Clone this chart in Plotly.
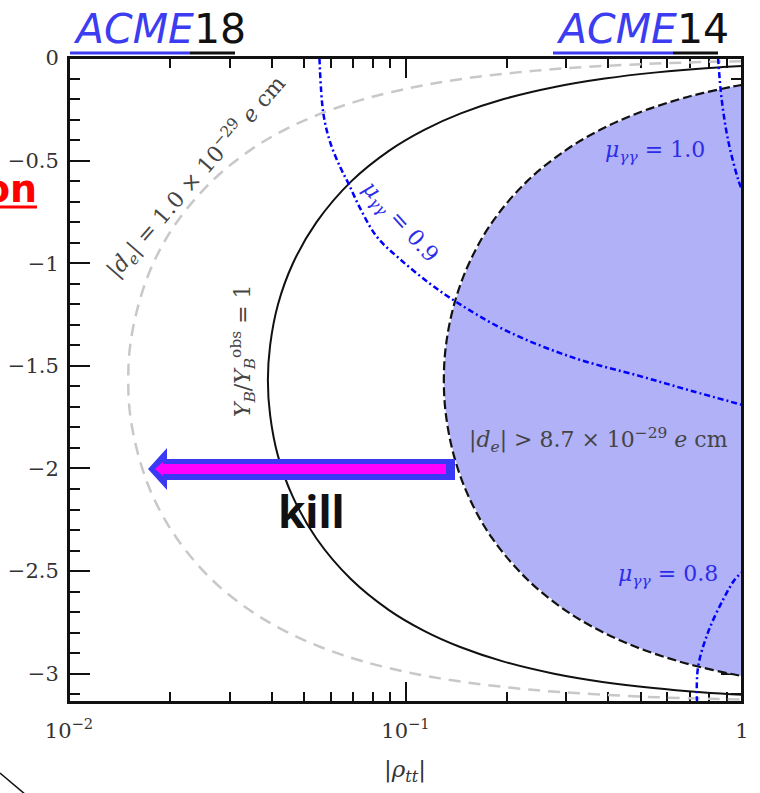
import plotly.graph_objects as go

# ---------------- data ----------------
# phase phi (y axis) and |rho_tt| (x axis) along each contour
phi_curve = [-0.01, -0.02, -0.03, -0.05, -0.07, -0.10, -0.14, -0.20, -0.27, -0.35, -0.45,
             -0.60, -0.80, -1.00, -1.20, -1.40, -1.57, -1.74, -1.94, -2.14, -2.34, -2.54,
             -2.69, -2.79, -2.87, -2.94, -3.00, -3.04, -3.07, -3.09, -3.11, -3.12, -3.13]
rho_de_10 = [1.50, 0.750, 0.500, 0.300, 0.215, 0.150, 0.1075, 0.0755, 0.0562, 0.0437, 0.0345,
             0.0266, 0.0209, 0.0178, 0.0161, 0.0152, 0.0150, 0.0152, 0.0161, 0.0178, 0.0209, 0.0265,
             0.0344, 0.0436, 0.0559, 0.0749, 0.1063, 0.148, 0.210, 0.291, 0.475, 0.694, 1.29]
rho_yb = [3.9, 1.95, 1.30, 0.780, 0.558, 0.391, 0.280, 0.196, 0.146, 0.1137, 0.0897,
          0.0691, 0.0544, 0.0463, 0.0418, 0.0396, 0.0390, 0.0396, 0.0418, 0.0463, 0.0543, 0.0689,
          0.0893, 0.1132, 0.1454, 0.1948, 0.2764, 0.385, 0.545, 0.756, 1.23, 1.80, 3.36]

phi_excl = [-0.13, -0.14, -0.17, -0.20, -0.27, -0.35, -0.45, -0.60, -0.80, -1.00, -1.20, -1.40,
            -1.57, -1.74, -1.94, -2.14, -2.34, -2.54, -2.69, -2.79, -2.87, -2.94, -2.97, -3.00, -3.011]
rho_excl = [1.003, 0.932, 0.768, 0.654, 0.487, 0.379, 0.299, 0.230, 0.181, 0.1545, 0.1395, 0.1319,
            0.1300, 0.1319, 0.1394, 0.1543, 0.1809, 0.2298, 0.2978, 0.3775, 0.4845, 0.649, 0.761, 0.921, 0.998]

mu09_rho = [0.0555, 0.0570, 0.0597, 0.0639, 0.0676, 0.0732, 0.0821, 0.0963, 0.1183, 0.1420, 0.1999, 0.3152, 0.4976, 0.701, 1.0]
mu09_phi = [0.0, -0.27, -0.41, -0.53, -0.61, -0.73, -0.87, -0.98, -1.10, -1.19, -1.33, -1.46, -1.55, -1.62, -1.69]
mu10_rho = [0.849, 0.870, 0.909, 0.973, 1.0]
mu10_phi = [0.0, -0.20, -0.40, -0.59, -0.643]
mu08_rho = [0.735, 0.740, 0.792, 0.878, 0.953, 1.0]
mu08_phi = [-3.14, -2.97, -2.80, -2.64, -2.54, -2.505]

x_tickvals = [0.01, 0.1, 1]
x_ticktext = ["10<sup>−2</sup>", "10<sup>−1</sup>", "1"]
x_minor = [0.02, 0.03, 0.04, 0.05, 0.06, 0.07, 0.08, 0.09, 0.2, 0.3, 0.4, 0.5, 0.6, 0.7, 0.8, 0.9]
y_tickvals = [0, -0.5, -1, -1.5, -2, -2.5, -3]
y_ticktext = ["0", "−0.5", "−1", "−1.5", "−2", "−2.5", "−3"]

# ---------------- figure ----------------
W, H = 760, 793
SERIF = "DejaVu Serif"
BLUE_TXT = "#2d2de8"
ACME_BLUE = "#3c3cf0"

fig = go.Figure()

fig.add_trace(go.Scatter(x=rho_excl, y=phi_excl, mode="lines", fill="toself",
                         fillcolor="#b1b1f8", line=dict(width=0), hoverinfo="skip"))
fig.add_trace(go.Scatter(x=rho_excl, y=phi_excl, mode="lines",
                         line=dict(color="#111111", width=2.2, dash="9px,4px", shape="spline")))
fig.add_trace(go.Scatter(x=rho_de_10, y=phi_curve, mode="lines",
                         line=dict(color="#c8c8c8", width=2.5, dash="12px,8px", shape="spline")))
fig.add_trace(go.Scatter(x=rho_yb, y=phi_curve, mode="lines",
                         line=dict(color="#111111", width=2, shape="spline")))
for xs, ys in [(mu09_rho, mu09_phi), (mu10_rho, mu10_phi), (mu08_rho, mu08_phi)]:
    fig.add_trace(go.Scatter(x=xs, y=ys, mode="lines",
                             line=dict(color="#0000ff", width=2.5, dash="6px,3px,2px,3px", shape="spline")))

axis_common = dict(showgrid=False, zeroline=False, showline=True, linecolor="#111", linewidth=2,
                   mirror="allticks", ticks="inside", tickcolor="#111", tickwidth=1.5, layer="below traces",
                   automargin=False,
                   tickfont=dict(family=SERIF, size=21, color="#333"))

fig.update_layout(
    width=W, height=H, margin=dict(l=0, r=0, t=0, b=0, autoexpand=False),
    paper_bgcolor="white", plot_bgcolor="white", showlegend=False,
    xaxis=dict(type="log", range=[-2, 0], domain=[69 / W, 742 / W],
               tickvals=x_tickvals, ticktext=x_ticktext, ticklen=20, ticklabelstandoff=9,
               minor=dict(tickvals=x_minor, ticklen=10, ticks="inside", tickcolor="#111", tickwidth=1.5),
               **axis_common),
    yaxis=dict(range=[-3.138, 0], domain=[1 - 702 / H, 1 - 58 / H],
               tickvals=y_tickvals, ticktext=y_ticktext, ticklen=21, ticklabelstandoff=4,
               minor=dict(dtick=0.1, ticklen=11, ticks="inside", tickcolor="#111", tickwidth=1.5),
               **axis_common),
)

def px(x):
    return x / W

def py(y):
    return 1 - y / H

def ann(text, x, y, size, color="#333", family=SERIF, angle=0, xanchor="center", yanchor="middle", **kw):
    fig.add_annotation(text=text, x=px(x), y=py(y), xref="paper", yref="paper", showarrow=False,
                       textangle=angle, xanchor=xanchor, yanchor=yanchor,
                       font=dict(family=family, size=size, color=color), **kw)

# in-plot labels
ann("|<i>d</i><sub><i>e</i></sub>| = 1.0 × 10<sup>−29</sup> <i>e</i> cm", 196, 177, 22, "#444", angle=-49)
ann("<i>Y</i><sub><i>B</i></sub>/<i>Y</i><sub><i>B</i></sub><sup>obs</sup> = 1", 243, 351, 22, "#444", angle=-90)
ann("|<i>d</i><sub><i>e</i></sub>| > 8.7 × 10<sup>−29</sup> <i>e</i> cm", 598, 440, 22, "#444")
ann("<i>μ</i><sub><i>γγ</i></sub> = 1.0", 655, 152, 22, BLUE_TXT)
ann("<i>μ</i><sub><i>γγ</i></sub> = 0.8", 668, 575, 22, BLUE_TXT)
ann("<i>μ</i><sub><i>γγ</i></sub> = 0.9", 399, 223, 22, BLUE_TXT, angle=48)
ann("|<i>ρ</i><sub><i>tt</i></sub>|", 405, 771, 23, "#333")

# slide decorations
ann(f"<i><span style='color:{ACME_BLUE}'>ACME</span></i>18", 71, 29, 41, "#111", family="DejaVu Sans", xanchor="left")
ann(f"<i><span style='color:{ACME_BLUE}'>ACME</span></i>14", 554, 29, 41, "#111", family="DejaVu Sans", xanchor="left")
ann("<b>on</b>", 38, 189, 38, "#ff0000", family="DejaVu Sans", xanchor="right", height=30, borderpad=0)
ann("<b>kill</b>", 311, 511, 44, "#111", family="Noto Sans")

def line(x0, y0, x1, y1, color, width):
    fig.add_shape(type="line", xref="paper", yref="paper", x0=px(x0), y0=py(y0), x1=px(x1), y1=py(y1),
                  line=dict(color=color, width=width))

line(70, 53, 190, 53, ACME_BLUE, 3)
line(190, 53, 235, 53, "#111", 3)
line(553, 53, 673, 53, ACME_BLUE, 3)
line(673, 53, 718, 53, "#111", 3)
line(0, 207, 37, 207, "#ff0000", 3)
line(0, 773, 26, 795, "#111", 1.5)

def path(pts):
    return "M " + " L ".join(f"{px(x):.5f},{py(y):.5f}" for x, y in pts) + " Z"

fig.add_shape(type="path", xref="paper", yref="paper",
              path=path([(148, 469), (167, 448), (167, 459), (455, 459), (455, 480), (167, 480), (167, 490)]),
              fillcolor="#3a3af5", line=dict(width=0))
fig.add_shape(type="path", xref="paper", yref="paper",
              path=path([(155, 469), (163, 462), (163, 464), (446, 464), (446, 474), (163, 474), (163, 476)]),
              fillcolor="#ff00ff", line=dict(width=0))

# frame on top of the fill
fig.add_shape(type="rect", xref="x domain", yref="y domain", x0=0, x1=1, y0=0, y1=1,
              line=dict(color="#111", width=2))

fig.write_html("out.html")
